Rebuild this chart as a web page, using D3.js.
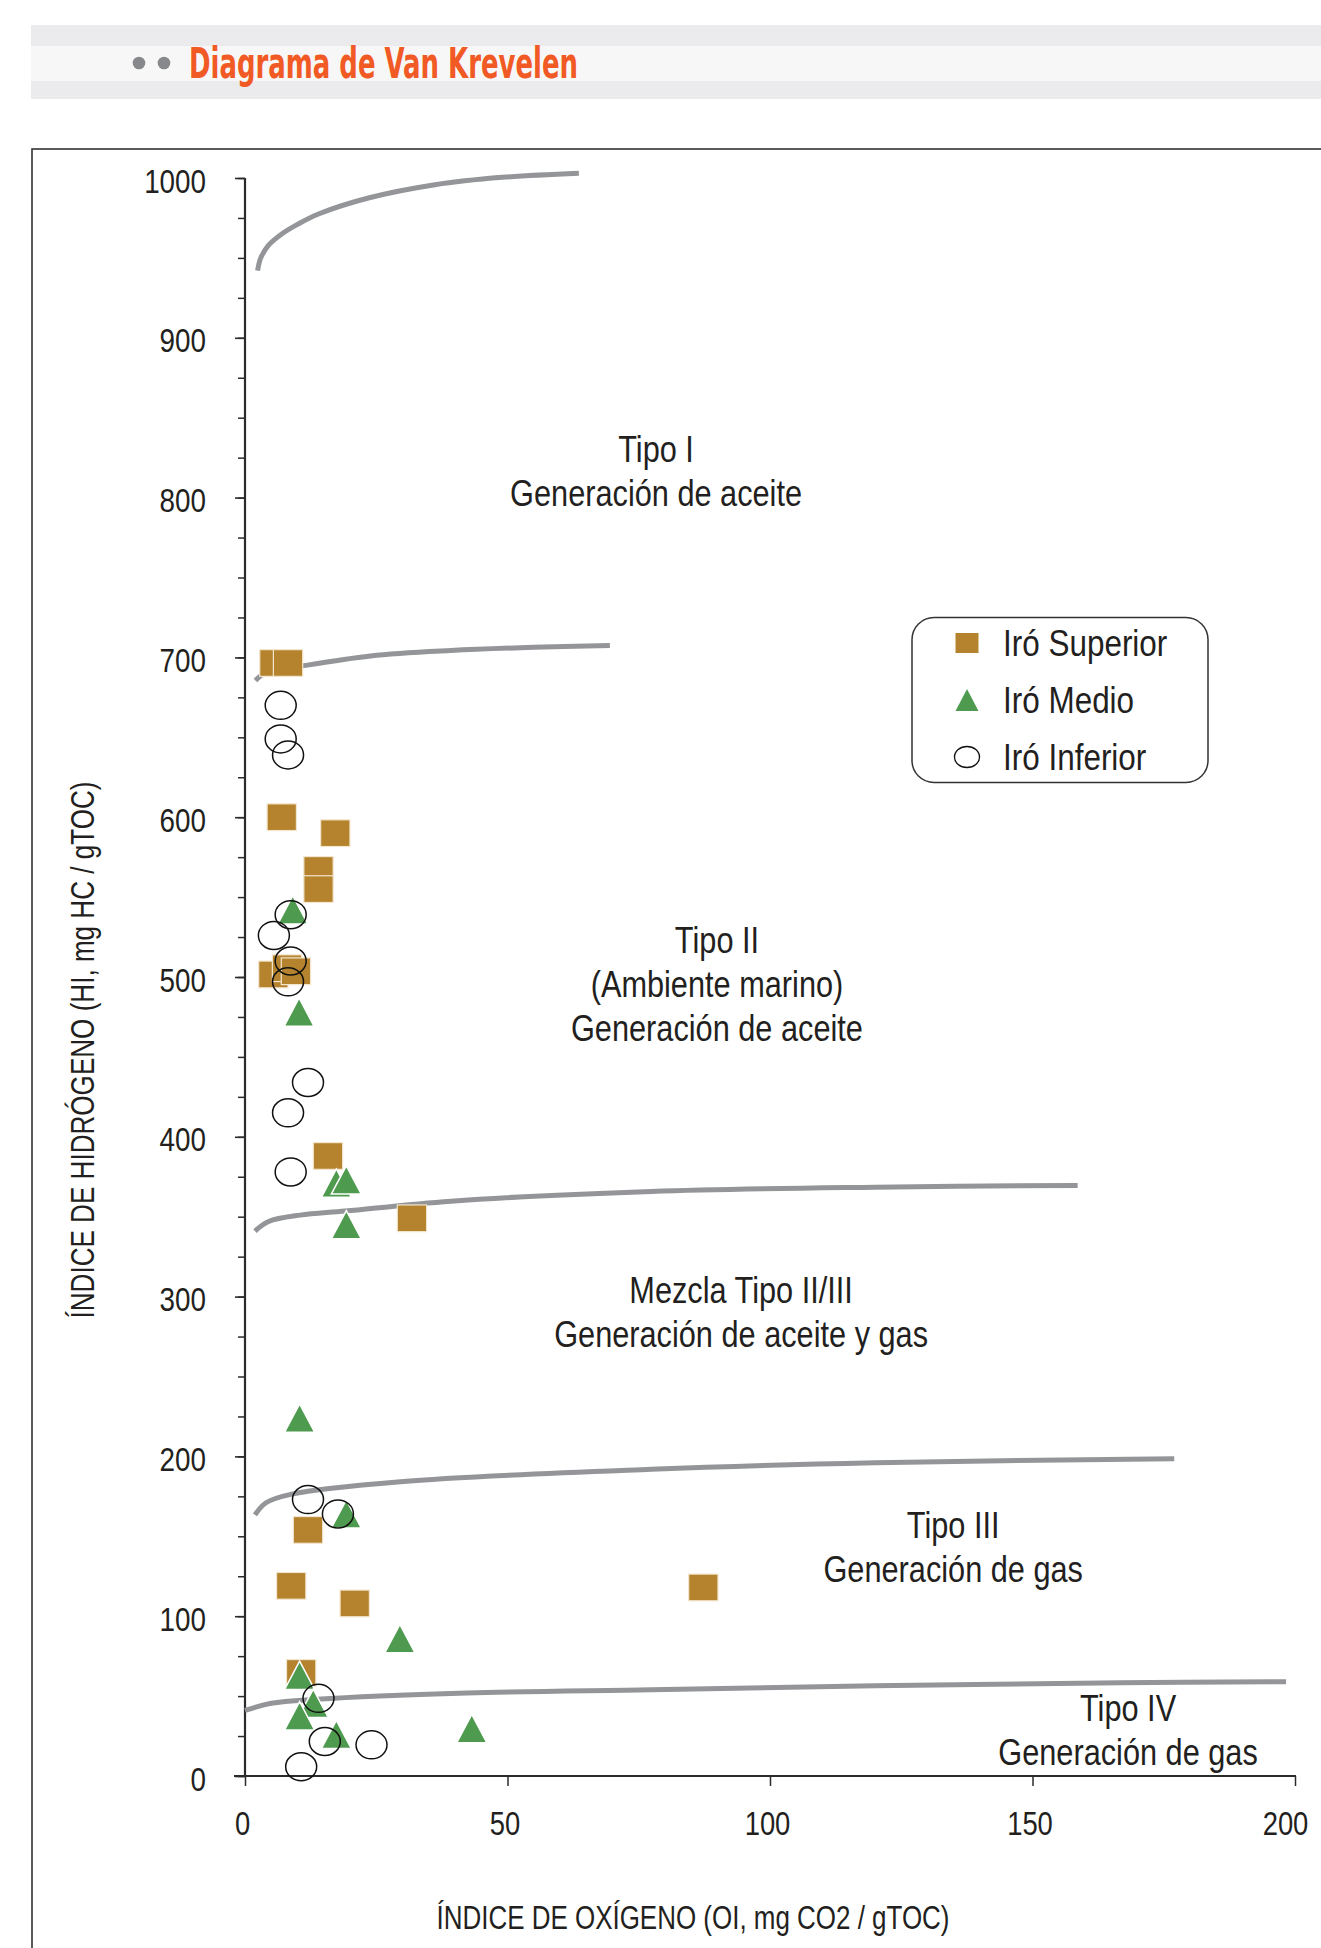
<!DOCTYPE html>
<html><head><meta charset="utf-8">
<script src="https://cdn.jsdelivr.net/npm/d3@7"></script>
<style>body{margin:0;background:#fff;} svg{display:block;}</style>
</head><body>
<svg id="chart" width="1321" height="1948"></svg>
<script>
// ---------- DATA ----------
const xTickValues = [0, 50, 100, 150, 200];
const yTickValues = [0, 100, 200, 300, 400, 500, 600, 700, 800, 900, 1000];
const yMinorValues = d3.range(0, 1001, 25);

const iroSuperior = [[5.6,696.5],[8.2,696.5],[7.0,600],[17.2,590],[14.0,567],[14.0,555],[5.4,501.6],[8.0,505.5],[9.7,503.6],[15.8,388],[31.8,349],[12.0,154],[8.8,119],[20.9,108],[87.3,118],[10.7,64.5]];
const iroMedio = [[9.1,542],[10.3,478],[17.4,371],[19.3,373],[19.3,345],[10.4,224],[19.3,164],[29.5,86],[10.4,63],[13.0,45.5],[10.4,37.7],[17.4,26],[43.2,29.7]];
const iroInferior = [[6.8,670],[6.8,649],[8.2,639],[8.7,539],[5.5,526],[8.7,510],[8.2,497],[12.0,434],[8.2,415],[8.7,378],[12.0,173],[17.7,164],[14.0,48.6],[15.2,21.6],[24.1,19.5],[10.7,5.8]];

const curveTipoI = [[2.4,942],[3.0,950],[4.5,958],[7,965],[10,971],[14,977.5],[23.5,987.5],[36.2,995.8],[49,1000.4],[63.6,1003]];
const curveTipoII = [[2.0,685.5],[4.0,690.5],[10.7,694.5],[23.9,700.9],[39.2,704.3],[55,706.3],[69.5,707.4]];
const curveTipoIIIII = [[1.9,341],[4.5,347],[10.5,351],[19.1,353.5],[39.2,359.7],[77.4,365.8],[120,368.5],[158.6,369.6]];
const curveTipoIII = [[1.9,163.4],[4,171],[8.9,176.4],[29.6,184.2],[77.4,191.9],[120,196],[177,198.5]];
const curveTipoIV = [[0,41],[5,45.5],[13.7,48],[42.3,51.9],[77.4,54],[120,56.5],[167,58.3],[198.3,59]];
const curves = [curveTipoI, curveTipoII, curveTipoIIIII, curveTipoIII, curveTipoIV];

const regionLabels = [
  {x: 78.3, y: 822, lines: ["Tipo I", "Generación de aceite"]},
  {x: 89.9, y: 515, lines: ["Tipo II", "(Ambiente marino)", "Generación de aceite"]},
  {x: 94.5, y: 296, lines: ["Mezcla Tipo II/III", "Generación de aceite y gas"]},
  {x: 134.9, y: 149, lines: ["Tipo III", "Generación de gas"]},
  {x: 168.2, y: 34.4, lines: ["Tipo IV", "Generación de gas"]}
];
const legendLabels = ["Iró Superior", "Iró Medio", "Iró Inferior"];
const titleText = "Diagrama de Van Krevelen";
const xTitle = "ÍNDICE DE OXÍGENO (OI, mg CO2 / gTOC)";
const yTitle = "ÍNDICE DE HIDRÓGENO (HI, mg HC / gTOC)";

// ---------- STYLE / LAYOUT ----------
const FONT = "'Liberation Sans','Arial',sans-serif";
const NARROW = 0.83;
const GOLD = "#b5832e", GREEN = "#4e9a4f", CURVE = "#939598", AX = "#2b2b2b", TXT = "#231f20";
const svg = d3.select("#chart");
function condense(sel, r) {
  sel.each(function() {
    const w = this.getComputedTextLength();
    d3.select(this).attr("textLength", w * (r || NARROW)).attr("lengthAdjust", "spacingAndGlyphs");
  });
}

// header band
svg.append("rect").attr("x",31).attr("y",25).attr("width",1290).attr("height",74).attr("fill","#ebebed");
svg.append("rect").attr("x",31).attr("y",46).attr("width",1290).attr("height",35).attr("fill","#f7f7f7");
[139,164].forEach(cx => svg.append("circle").attr("cx",cx).attr("cy",63).attr("r",6.3).attr("fill","#87888b"));
svg.append("text").attr("x",189).attr("y",78).text(titleText)
  .attr("font-family","'DejaVu Sans Condensed','DejaVu Sans',sans-serif").attr("font-weight","bold").attr("font-size",43)
  .attr("fill","#f15a24").attr("textLength",389).attr("lengthAdjust","spacingAndGlyphs");

// frame
svg.append("rect").attr("x",32).attr("y",149).attr("width",1400).attr("height",2000)
  .attr("fill","none").attr("stroke","#333").attr("stroke-width",1.6);

// scales
const x = d3.scaleLinear().domain([0,200]).range([245,1295]);
const y = d3.scaleLinear().domain([0,1000]).range([1776,178]);

// y axis
svg.append("g").attr("transform",`translate(${x(0)},0)`)
  .call(d3.axisLeft(y).tickValues(yMinorValues).tickSize(7).tickFormat(""))
  .call(g => g.selectAll(".tick line").attr("stroke",AX).attr("stroke-width",1.5));
const gyMaj = svg.append("g").attr("transform",`translate(${x(0)},0)`)
  .call(d3.axisLeft(y).tickValues(yTickValues).tickSize(10).tickPadding(29).tickFormat(d3.format("d")));
gyMaj.selectAll(".tick line").attr("stroke",AX).attr("stroke-width",1.6);
gyMaj.selectAll(".tick text").attr("font-family",FONT).attr("font-size",33.5).attr("fill",TXT).attr("dy","0.42em");
condense(gyMaj.selectAll(".tick text"));
svg.selectAll(".domain").remove();
svg.append("line").attr("x1",x(0)).attr("x2",x(0)).attr("y1",y(1000)).attr("y2",y(0)+1)
  .attr("stroke",AX).attr("stroke-width",2.2);

// x axis
const gx = svg.append("g").attr("transform",`translate(0,${y(0)})`)
  .call(d3.axisBottom(x).tickValues(xTickValues).tickSize(10).tickFormat(d3.format("d")));
gx.select(".domain").remove();
gx.selectAll(".tick line").attr("stroke",AX).attr("stroke-width",1.5);
gx.selectAll(".tick text").attr("font-family",FONT).attr("font-size",33).attr("fill",TXT)
  .attr("y",59).attr("dy",0).attr("dx",(d,i,n) => i === n.length - 1 ? -10 : -3);
condense(gx.selectAll(".tick text"));
svg.append("line").attr("x1",x(0)-11).attr("x2",x(200)+1).attr("y1",y(0)).attr("y2",y(0))
  .attr("stroke",AX).attr("stroke-width",2);

// axis titles
svg.append("text").attr("x",693).attr("y",1929).attr("text-anchor","middle").text(xTitle)
  .attr("font-family",FONT).attr("font-size",34).attr("fill",TXT)
  .attr("textLength",513).attr("lengthAdjust","spacingAndGlyphs");
svg.append("text").attr("transform","translate(94,1050) rotate(-90)").attr("text-anchor","middle").text(yTitle)
  .attr("font-family",FONT).attr("font-size",34).attr("fill",TXT)
  .attr("textLength",537).attr("lengthAdjust","spacingAndGlyphs");

// curves
const line = d3.line().x(d => x(d[0])).y(d => y(d[1])).curve(d3.curveCatmullRom.alpha(0.5));
svg.append("g").selectAll("path").data(curves).join("path")
  .attr("d",line).attr("fill","none").attr("stroke",CURVE).attr("stroke-width",5);

// region labels
const labelLines = regionLabels.flatMap(d => d.lines.map((t,i) => ({t, x: d.x, y: d.y, i})));
const labs = svg.append("g").selectAll("text").data(labelLines).join("text")
  .attr("x",d => x(d.x)).attr("y",d => y(d.y) + d.i * 44).attr("text-anchor","middle")
  .attr("font-family",FONT).attr("font-size",37).attr("fill",TXT).text(d => d.t);
condense(labs);

// markers
const SQ_W = 29.3, SQ_H = 26.7, TR_W = 30, TR_H = 28.3, C_RX = 15.5, C_RY = 14;
svg.append("g").selectAll("rect").data(iroSuperior).join("rect")
  .attr("x",d => x(d[0]) - SQ_W/2).attr("y",d => y(d[1]) - SQ_H/2)
  .attr("width",SQ_W).attr("height",SQ_H).attr("fill",GOLD)
  .attr("stroke","#f3e6cf").attr("stroke-width",1.2);
const triPath = (w,h) => `M0,${-h/2}L${w/2},${h/2}L${-w/2},${h/2}Z`;
svg.append("g").selectAll("path").data(iroMedio).join("path")
  .attr("transform",d => `translate(${x(d[0])},${y(d[1])})`)
  .attr("d",triPath(TR_W,TR_H)).attr("fill",GREEN).attr("stroke","#fff").attr("stroke-width",1.5);
svg.append("g").selectAll("ellipse").data(iroInferior).join("ellipse")
  .attr("cx",d => x(d[0])).attr("cy",d => y(d[1])).attr("rx",C_RX).attr("ry",C_RY)
  .attr("fill","none").attr("stroke","#111").attr("stroke-width",1.5);

// legend
const lg = svg.append("g");
lg.append("rect").attr("x",912).attr("y",617.5).attr("width",296).attr("height",165).attr("rx",22)
  .attr("fill","#fff").attr("stroke","#333").attr("stroke-width",1.5);
const rowsY = [643, 700, 757];
lg.append("rect").attr("x",967-11.5).attr("y",rowsY[0]-10).attr("width",23).attr("height",20).attr("fill",GOLD);
lg.append("path").attr("transform",`translate(967,${rowsY[1]})`).attr("d",triPath(23,22)).attr("fill",GREEN);
lg.append("ellipse").attr("cx",967).attr("cy",rowsY[2]).attr("rx",12.5).attr("ry",10.5)
  .attr("fill","none").attr("stroke","#111").attr("stroke-width",1.4);
const lt = lg.selectAll("text").data(legendLabels).join("text")
  .attr("x",1003).attr("y",(d,i) => rowsY[i] + 13).text(d => d)
  .attr("font-family",FONT).attr("font-size",37).attr("fill",TXT);
condense(lt, 0.85);
</script>
</body></html>
